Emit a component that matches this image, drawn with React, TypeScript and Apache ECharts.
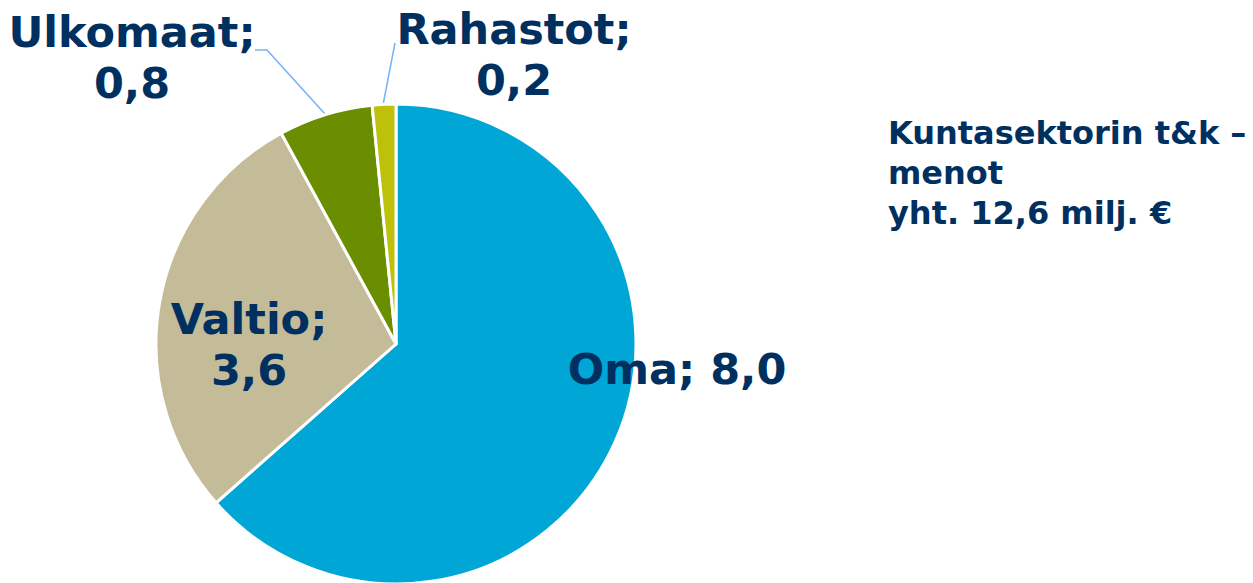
import React, { useEffect, useRef } from "react";
import * as echarts from "echarts";

const categories = ["Oma", "Valtio", "Ulkomaat", "Rahastot"];
const values = [8.0, 3.6, 0.8, 0.2];
const colors = ["#00A6D6", "#C4BC98", "#6B8E00", "#BFC00A"];
const titleLines = ["Kuntasektorin t&k –", "menot", "yht. 12,6 milj. €"];

const TEXT = "#00305F";
const FONT = "'DejaVu Sans', Verdana, sans-serif";

// label placements (layout only)
const labelPos: Record<string, { x: number; y: number; line?: number[][] }> = {
  Oma: { x: 677, y: 369 },
  Valtio: { x: 249, y: 344 },
  Ulkomaat: { x: 132, y: 57, line: [[325, 114], [267, 50], [255, 50]] },
  Rahastot: { x: 514, y: 54, line: [[383, 105], [389, 74], [395, 43]] },
};

const fmt = (v: number) => v.toFixed(1).replace(".", ",");

export default function App() {
  const ref = useRef<HTMLDivElement>(null);
  useEffect(() => {
    if (!ref.current) return;
    const chart = echarts.init(ref.current, undefined, { renderer: "svg" });
    chart.setOption({
      animation: false,
      title: {
        text: titleLines.join("\n"),
        left: 883,
        top: 108,
        textStyle: {
          color: TEXT,
          fontFamily: FONT,
          fontWeight: "bold",
          fontSize: 32,
          lineHeight: 40,
        },
      },
      series: [
        {
          type: "pie",
          center: [396, 344],
          radius: [0, 240],
          startAngle: 90,
          clockwise: true,
          itemStyle: { borderColor: "#ffffff", borderWidth: 3 },
          label: {
            show: true,
            position: "outside",
            alignTo: "none",
            overflow: "none",
            color: TEXT,
            fontFamily: FONT,
            fontWeight: "bold",
            fontSize: 43,
            lineHeight: 51,
            align: "center",
            formatter: (p: any) =>
              p.name === "Oma" ? `${p.name}; ${fmt(p.value)}` : `${p.name};\n${fmt(p.value)}`,
          },
          labelLine: {
            show: true,
            lineStyle: { color: "#74B2FA", width: 1.5 },
          },
          labelLayout: (params: any) => {
            const name = categories[params.dataIndex];
            const pos = labelPos[name];
            const res: any = {
              x: pos.x,
              y: pos.y,
              align: "center",
              verticalAlign: "middle",
              width: 400,
            };
            if (pos.line) res.labelLinePoints = pos.line;
            return res;
          },
          data: categories.map((name, i) => ({
            name,
            value: values[i],
            itemStyle: { color: colors[i] },
            labelLine: { show: i >= 2 },
          })),
        },
      ],
    });
    return () => chart.dispose();
  }, []);
  return (
    <div
      ref={ref}
      style={{ position: "absolute", left: 0, top: 0, width: 1253, height: 583, background: "#fff" }}
    />
  );
}
